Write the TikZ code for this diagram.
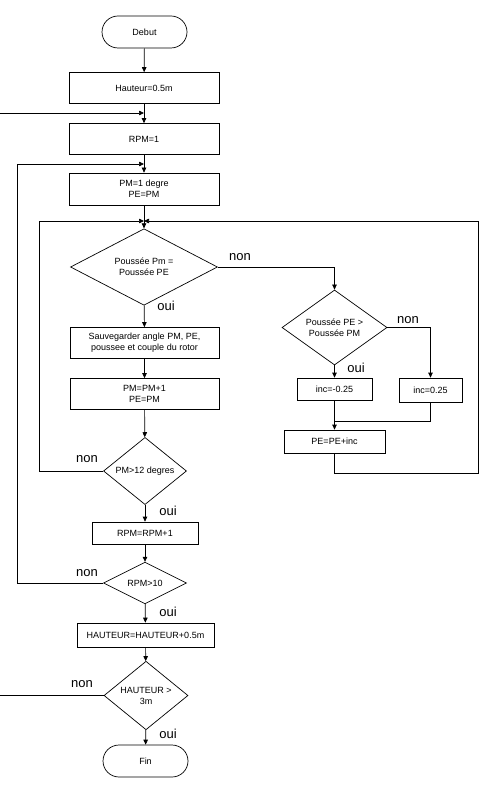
\documentclass[tikz,border=0pt]{standalone}
\usepackage{fontspec}
\setmainfont{Liberation Sans}
\usetikzlibrary{shapes.geometric,arrows.meta}
\begin{document}
\begin{tikzpicture}[x=1pt,y=-1pt,
  every node/.style={font=\fontsize{9}{11}\selectfont},
  box/.style={draw,line width=0.7pt,inner sep=1pt,align=center,minimum height=31pt},
  term/.style={draw,line width=0.7pt,rounded corners=16pt,minimum width=85pt,minimum height=32pt,inner sep=1pt},
  decision/.style={draw,line width=0.7pt,diamond,inner sep=0pt,align=center},
  lbl/.style={font=\fontsize{13}{13}\selectfont},
  conn/.style={line width=0.7pt},
  arr/.style={line width=0.7pt,-{Triangle[length=5pt,width=4.5pt]}}]
\useasboundingbox (0,0) rectangle (481,799);
% nodes
\node[term] (debut) at (144.5,32) {Debut};
\node[box,minimum width=150pt] (h0) at (144,88) {Hauteur=0.5m};
\node[box,minimum width=150pt] (rpm1) at (144,139) {RPM=1};
\node[box,minimum width=150pt,minimum height=32pt] (pm1) at (144,189) {PM=1 degre\\PE=PM};
\node[decision,minimum width=147pt,minimum height=60pt] (d1) at (144,267) {Poussée Pm =\\Poussée PE};
\node[box,minimum width=149pt] (sauv) at (144.5,343) {Sauvegarder angle PM, PE,\\poussee et couple du rotor};
\node[box,minimum width=149pt] (pmpp) at (144.5,394) {PM=PM+1\\PE=PM};
\node[decision,minimum width=83pt,minimum height=60pt] (d3) at (145,471) {PM>12 degres};
\node[box,minimum width=106pt,minimum height=22pt] (rpmpp) at (145,533) {RPM=RPM+1};
\node[decision,minimum width=83pt,minimum height=40pt] (d4) at (145,583) {RPM>10};
\node[box,minimum width=137pt,minimum height=24pt] (hpp) at (145.5,635) {HAUTEUR=HAUTEUR+0.5m};
\node[decision,minimum width=84pt,minimum height=59pt] (d5) at (146,695.5) {HAUTEUR >\\3m};
\node[term] (fin) at (145.5,761) {Fin};
\node[decision,minimum width=105pt,minimum height=61pt] (d2) at (334.5,327.5) {Poussée PE >\\Poussée PM};
\node[box,minimum width=75pt,minimum height=22pt] (incm) at (334.5,389) {inc=-0.25};
\node[box,minimum width=63pt,minimum height=24pt] (incp) at (430.5,390) {inc=0.25};
\node[box,minimum width=101pt,minimum height=23pt] (pe) at (334.5,441.5) {PE=PE+inc};
% coordinates
\coordinate (j1) at (144,113);
\coordinate (j2) at (144,164);
\coordinate (j3) at (144,221);
\coordinate (lout) at (0,113);
\coordinate (lin) at (0,695.5);
\coordinate (m2) at (334.5,421);
% labels
\node[lbl] (ln1) at (240,257) {non};
\node[lbl] (lo1) at (166,306) {oui};
\node[lbl] (ln2) at (408,320) {non};
\node[lbl] (lo2) at (356,368) {oui};
\node[lbl] (ln3) at (87,459) {non};
\node[lbl] (lo3) at (168,511) {oui};
\node[lbl] (ln4) at (87,573) {non};
\node[lbl] (lo4) at (168,612) {oui};
\node[lbl] (ln5) at (82,684) {non};
\node[lbl] (lo5) at (168,734) {oui};
% connectors
\draw[arr] (debut) -- (h0);
\draw[conn] (h0) -- (j1);
\draw[arr] (j1) -- (rpm1);
\draw[arr] (lout) -- (j1);
\draw[conn] (rpm1) -- (j2);
\draw[arr] (j2) -- (pm1);
\draw[conn] (pm1) -- (j3);
\draw[arr] (j3) -- (d1);
\draw[arr] (d1) -- (sauv);
\draw[arr] (sauv) -- (pmpp);
\draw[arr] (pmpp) -- (d3);
\draw[arr] (d3) -- (rpmpp);
\draw[arr] (rpmpp) -- (d4);
\draw[arr] (d4) -- (hpp);
\draw[arr] (hpp) -- (d5);
\draw[arr] (d5) -- (fin);
\draw[conn] (d5.west) -- (lin);
\draw[arr] (d4.west) -| (17,164) -- (j2);
\draw[arr] (d3.west) -| (39,221) -- (j3);
\draw[arr] (d1.east) -| (d2.north);
\draw[arr] (d2.south) -- (incm);
\draw[arr] (d2.east) -| (incp.north);
\draw[conn] (incm) -- (m2);
\draw[conn] (incp.south) |- (m2);
\draw[arr] (m2) -- (pe);
\draw[arr] (pe.south) |- (478,473) |- (j3);
\end{tikzpicture}
\end{document}
